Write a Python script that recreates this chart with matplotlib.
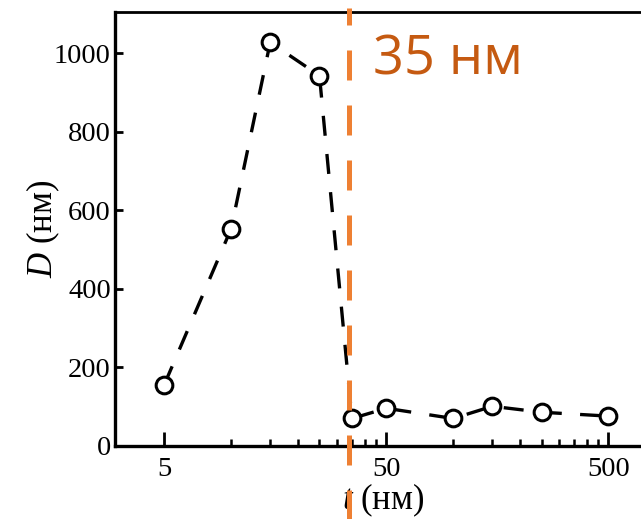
import matplotlib
matplotlib.use("Agg")
import matplotlib.pyplot as plt
from matplotlib.ticker import FixedLocator, NullFormatter

plt.rcParams['mathtext.fontset'] = 'custom'
plt.rcParams['mathtext.it'] = 'Liberation Serif:italic'
plt.rcParams['mathtext.rm'] = 'Liberation Serif'

t = [5, 10, 15, 25, 35, 50, 100, 150, 250, 500]
D = [156, 553, 1028, 943, 70, 96, 70, 101, 86, 76]
x_major = [5, 50, 500]
x_minor = [10, 15, 20, 25, 30, 35, 40, 45, 100, 150, 200, 250, 300, 350, 400, 450]
y_ticks = [0, 200, 400, 600, 800, 1000]
t_split = 34

fig = plt.figure(figsize=(6.41, 5.19), dpi=100)
ax = fig.add_axes([0.1794, 0.1407, 0.846, 0.836])

ax.plot(t, D, color='black', lw=2.4, dashes=(6, 5.5),
        marker='o', ms=12, mfc='white', mec='black', mew=2.2, zorder=3)

ax.axvline(t_split, ymin=-0.2, ymax=1.01, color='#EE8033', lw=3.6,
           dashes=(6, 5), clip_on=False, zorder=4)
ax.text(0.475, 0.89, '35 нм', transform=ax.transAxes, color='#C55A11',
        fontsize=39, family='Open Sans', va='center', ha='left')

ax.set_xscale('log')
ax.set_xlim(3, 830)
ax.set_ylim(0, 1105)
ax.xaxis.set_major_locator(FixedLocator(x_major))
ax.xaxis.set_minor_locator(FixedLocator(x_minor))
ax.xaxis.set_minor_formatter(NullFormatter())
ax.set_xticklabels([str(v) for v in x_major])
ax.set_yticks(y_ticks)

for lab in ax.get_xticklabels() + ax.get_yticklabels():
    lab.set_family('Liberation Serif')
    lab.set_fontsize(20.5)

ax.tick_params(which='major', direction='in', length=10, width=2)
ax.tick_params(axis='x', which='major', pad=8)
ax.tick_params(axis='y', which='major', length=6, pad=3)
ax.tick_params(which='minor', direction='in', length=5, width=1.8)

ax.spines['right'].set_visible(False)
for s in ['left', 'bottom']:
    ax.spines[s].set_linewidth(2.4)
ax.spines['top'].set_linewidth(2)

ax.set_xlabel('$t$ (нм)', family='Liberation Serif', fontsize=25, labelpad=0)
ax.xaxis.set_label_coords(0.495, -0.125)
ax.xaxis.label.set_va('center')
ax.set_ylabel('$D$ (нм)', family='Liberation Serif', fontsize=25, labelpad=-6)

fig.savefig('out.png', dpi=100)
